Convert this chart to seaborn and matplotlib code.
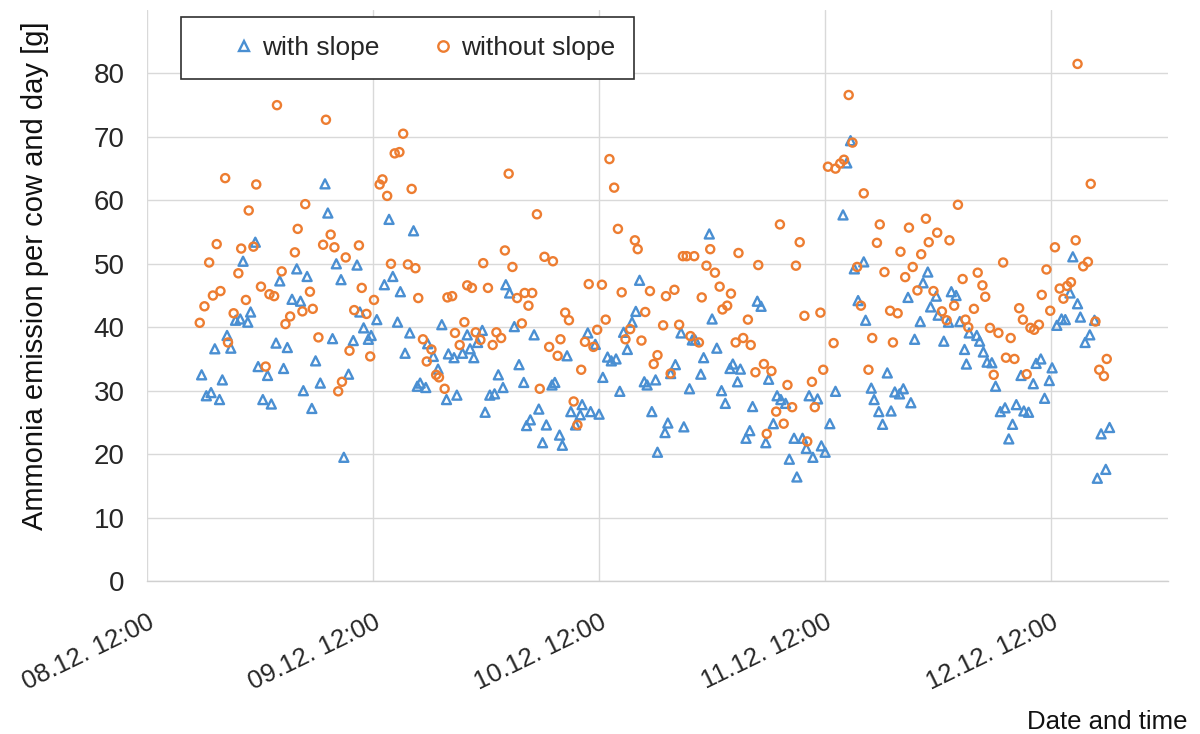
import matplotlib
matplotlib.use("Agg")
import matplotlib.dates as mdates
import matplotlib.pyplot as plt
import pandas as pd
import seaborn as sns
from matplotlib.lines import Line2D

# Time origin of the x axis (first tick, 08.12. 12:00)
START = pd.Timestamp("2020-12-08 12:00")

with_slope_hours = [
    5.8, 6.3, 6.8, 7.2, 7.7, 8.0, 8.5, 8.9, 9.4, 9.9, 10.2, 10.7, 11.0, 11.5, 11.8, 12.3,
    12.8, 13.2, 13.7, 14.1, 14.5, 14.9, 15.4, 15.9, 16.3, 16.6, 17.0, 17.5, 17.9, 18.4,
    18.9, 19.2, 19.7, 20.1, 20.6, 20.9, 21.4, 21.9,
    22.3, 22.6, 23.0, 23.5, 23.8, 24.4, 25.2, 25.7, 26.1, 26.6, 26.9, 27.4, 27.9, 28.3,
    28.7, 29.0, 29.6, 29.8, 30.4, 30.9, 31.3, 31.8, 32.0, 32.6, 32.9, 33.5, 34.0, 34.3,
    34.7, 35.1, 35.6, 35.9, 36.4, 36.9, 37.3, 37.8,
    38.1, 38.5, 39.0, 39.5, 40.0, 40.3, 40.7, 41.1, 41.6, 42.0, 42.4, 43.0, 43.3, 43.8,
    44.1, 44.6, 45.0, 45.5, 46.0, 46.2, 46.8, 47.1, 47.6, 48.0, 48.4, 48.9, 49.3, 49.8,
    50.2, 50.6, 51.0, 51.5, 51.9, 52.3, 52.8, 53.1, 53.6, 54.0, 54.2,
    55.0, 55.3, 55.6, 56.1, 56.7, 57.0, 57.6, 57.9, 58.2, 58.8, 59.1, 59.7, 60.0, 60.5,
    61.0, 61.4, 61.9, 62.2, 62.7, 63.0, 63.6, 64.0, 64.3, 64.8, 65.2, 65.7, 66.0, 66.5,
    66.9, 67.3, 67.8, 68.2, 68.7, 69.0, 69.6, 70.0, 70.3, 70.7,
    71.2, 71.6, 72.0, 72.5, 73.1, 73.9, 74.3, 74.7, 75.1, 75.5, 76.1, 76.3, 76.9, 77.2,
    77.7, 78.1, 78.6, 79.0, 79.4, 79.9, 80.3, 80.8, 81.1, 81.5, 82.1, 82.4, 82.9, 83.2,
    83.8, 84.0, 84.6, 85.1, 85.4, 85.9, 86.3, 86.8, 87.0, 87.3,
    88.1, 88.4, 88.8, 89.2, 89.7, 90.1, 90.6, 91.1, 91.5, 91.9, 92.3, 92.8, 93.1, 93.6,
    94.1, 94.4, 94.9, 95.3, 95.8, 96.1, 96.6, 97.1, 97.5, 98.0, 98.3, 98.8, 99.1, 99.6,
    100.1, 100.6, 100.9, 101.3, 101.8, 102.2,
]
with_slope = [
    32.5, 29.2, 29.7, 36.6, 28.6, 31.7, 38.7, 36.7, 41.1, 41.3, 50.4, 40.8, 42.4, 53.4, 33.8, 28.6,
    32.4, 27.9, 37.5, 47.3, 33.5, 36.8, 44.4, 49.2, 44.1, 30.0, 48.0, 27.2, 34.7, 31.2,
    62.6, 58.0, 38.2, 50.0, 47.5, 19.5, 32.6, 37.9,
    49.8, 42.4, 39.9, 38.1, 38.7, 41.2, 46.7, 57.0, 48.0, 40.8, 45.6, 35.9, 39.1, 55.2,
    30.7, 31.2, 30.5, 37.4, 35.4, 33.4, 40.4, 28.6, 35.8, 35.2, 29.3, 35.9, 38.8, 36.6,
    35.2, 37.6, 39.5, 26.6, 29.3, 29.5, 32.5, 30.5,
    46.7, 45.4, 40.1, 34.1, 31.3, 24.5, 25.4, 38.8, 27.1, 21.8, 24.6, 30.9, 31.3, 23.0,
    21.4, 35.5, 26.7, 24.6, 26.2, 27.8, 39.1, 26.7, 37.3, 26.3, 32.1, 35.3, 34.7, 35.0,
    29.9, 39.2, 36.5, 40.8, 42.5, 47.4, 31.4, 30.9, 26.7, 31.7, 20.3,
    23.4, 24.9, 32.7, 34.1, 39.1, 24.3, 30.3, 38.0, 38.0, 32.6, 35.2, 54.7, 41.3, 36.7,
    30.0, 28.0, 33.5, 34.2, 31.4, 33.4, 22.5, 23.7, 27.5, 44.1, 43.3, 21.8, 31.8, 24.8,
    29.2, 28.6, 28.0, 19.2, 22.5, 16.4, 22.5, 20.9, 29.2, 19.5,
    28.7, 21.3, 20.3, 24.8, 29.9, 57.7, 65.9, 69.4, 49.2, 44.2, 50.3, 41.1, 30.4, 28.6,
    26.7, 24.7, 32.8, 26.8, 29.8, 29.5, 30.3, 44.7, 28.1, 38.1, 40.9, 47.0, 48.7, 43.2,
    44.9, 41.9, 37.8, 40.8, 45.6, 45.0, 40.9, 36.5, 34.2, 39.1,
    38.7, 37.8, 36.1, 34.5, 34.4, 30.7, 26.7, 27.3, 22.4, 24.7, 27.8, 32.4, 26.8, 26.6,
    31.1, 34.3, 35.0, 28.8, 31.6, 33.6, 40.3, 41.3, 41.2, 45.4, 51.1, 43.7, 41.6, 37.6,
    38.8, 41.1, 16.2, 23.2, 17.6, 24.2,
]
without_slope_hours = [
    5.6, 6.1, 6.6, 7.0, 7.4, 7.8, 8.3, 8.6, 9.2, 9.7, 10.0, 10.5, 10.8, 11.3, 11.6, 12.1,
    12.6, 13.0, 13.5, 13.8, 14.3, 14.7, 15.2, 15.7, 16.0, 16.5, 16.8, 17.3, 17.6, 18.2,
    18.7, 19.0, 19.5, 19.9, 20.3, 20.7, 21.1, 21.5,
    22.0, 22.5, 22.8, 23.3, 23.7, 24.1, 24.7, 25.0, 25.5, 25.9, 26.3, 26.8, 27.2, 27.7,
    28.1, 28.5, 28.8, 29.3, 29.7, 30.2, 30.7, 31.0, 31.6, 31.9, 32.4, 32.7, 33.2, 33.7,
    34.0, 34.5, 34.9, 35.4, 35.7, 36.2, 36.7, 37.1, 37.6,
    38.0, 38.4, 38.8, 39.3, 39.8, 40.1, 40.5, 40.9, 41.4, 41.7, 42.2, 42.7, 43.1, 43.6,
    43.9, 44.4, 44.8, 45.3, 45.7, 46.1, 46.5, 46.9, 47.4, 47.8, 48.3, 48.7, 49.1, 49.6,
    50.0, 50.4, 50.8, 51.3, 51.8, 52.1, 52.5, 52.9, 53.4, 53.8, 54.2,
    54.8, 55.1, 55.6, 56.0, 56.5, 56.9, 57.3, 57.7, 58.1, 58.6, 58.9, 59.4, 59.8, 60.3,
    60.8, 61.1, 61.6, 62.0, 62.5, 62.8, 63.3, 63.8, 64.1, 64.6, 64.9, 65.5, 65.8, 66.3,
    66.8, 67.2, 67.6, 68.0, 68.5, 68.9, 69.3, 69.8, 70.1, 70.6, 70.9,
    71.5, 71.8, 72.3, 72.9, 73.1, 73.6, 74.0, 74.5, 74.9, 75.4, 75.8, 76.1, 76.6, 77.0,
    77.5, 77.8, 78.3, 78.9, 79.2, 79.7, 80.0, 80.5, 80.9, 81.3, 81.8, 82.2, 82.7, 83.0,
    83.5, 83.9, 84.4, 84.9, 85.2, 85.7, 86.1, 86.6, 86.9, 87.2,
    87.8, 88.2, 88.7, 89.0, 89.5, 89.9, 90.4, 90.9, 91.2, 91.7, 92.1, 92.6, 93.0, 93.4,
    93.8, 94.2, 94.7, 95.0, 95.5, 95.9, 96.4, 96.9, 97.3, 97.7, 98.1, 98.6, 98.8, 99.4,
    99.9, 100.2, 100.7, 101.1, 101.6, 101.9,
]
without_slope = [
    40.7, 43.3, 50.2, 45.0, 53.1, 45.7, 63.5, 37.6, 42.2, 48.5, 52.4, 44.3, 58.4, 52.7, 62.5, 46.4,
    33.8, 45.2, 44.9, 75.0, 48.8, 40.5, 41.7, 51.8, 55.5, 42.5, 59.4, 45.6, 42.9, 38.4,
    53.0, 72.7, 54.6, 52.6, 29.9, 31.4, 51.0, 36.3,
    42.7, 52.9, 46.2, 42.1, 35.4, 44.3, 62.5, 63.3, 60.7, 50.0, 67.4, 67.6, 70.5, 49.9,
    61.8, 49.3, 44.6, 38.1, 34.6, 36.5, 32.5, 32.1, 30.3, 44.7, 44.9, 39.1, 37.2, 40.8,
    46.6, 46.2, 39.2, 38.0, 50.1, 46.2, 37.2, 39.2, 38.3,
    52.1, 64.2, 49.5, 44.6, 40.6, 45.4, 43.4, 45.4, 57.8, 30.3, 51.1, 36.9, 50.4, 35.5,
    38.1, 42.3, 41.1, 28.3, 24.6, 33.3, 37.7, 46.8, 36.9, 39.6, 46.7, 41.2, 66.5, 62.0,
    55.5, 45.5, 38.1, 39.7, 53.7, 52.3, 37.9, 42.4, 45.7, 34.2, 35.6,
    40.3, 44.9, 32.7, 45.9, 40.4, 51.2, 51.2, 38.6, 51.2, 37.6, 44.7, 49.7, 52.3, 48.6,
    46.4, 42.8, 43.4, 45.3, 37.6, 51.7, 38.3, 41.2, 37.2, 32.9, 49.8, 34.2, 23.2, 33.1,
    26.7, 56.2, 24.8, 30.9, 27.4, 49.7, 53.4, 41.8, 22.0, 31.4, 27.4,
    42.3, 33.3, 65.3, 37.5, 65.0, 65.8, 66.4, 76.6, 69.1, 49.5, 43.4, 61.1, 33.3, 38.3,
    53.3, 56.2, 48.7, 42.6, 37.6, 42.2, 51.9, 47.9, 55.7, 49.5, 45.8, 51.5, 57.1, 53.4,
    45.7, 54.9, 42.5, 41.1, 53.7, 43.4, 59.3, 47.6, 41.2, 40.0,
    42.9, 48.6, 46.6, 44.8, 39.9, 32.5, 39.1, 50.2, 35.2, 38.3, 35.0, 43.0, 41.2, 32.6,
    39.9, 39.6, 40.4, 45.1, 49.1, 42.6, 52.6, 46.1, 44.5, 46.5, 47.1, 53.7, 81.5, 49.6,
    50.3, 62.6, 40.9, 33.3, 32.3, 35.0,
]

SERIES = ["with slope", "without slope"]
COLORS = {"with slope": "#4A8FD2", "without slope": "#ED7D31"}
MARKERS = {"with slope": "^", "without slope": "o"}
SIZES = {"with slope": 42, "without slope": 34}
Y_TICKS = [0, 10, 20, 30, 40, 50, 60, 70, 80]


def to_frame(hours, values, label):
    return pd.DataFrame({
        "time": START + pd.to_timedelta(hours, unit="h"),
        "emission": values,
        "series": label,
    })


frames = {
    "with slope": to_frame(with_slope_hours, with_slope, "with slope"),
    "without slope": to_frame(without_slope_hours, without_slope, "without slope"),
}

sns.set_theme(style="white")
plt.rcParams["font.family"] = ["Liberation Sans", "DejaVu Sans"]

fig = plt.figure(figsize=(12, 7.34), dpi=100)
ax = fig.add_axes([0.1225, 0.2084, 0.8508, 0.778])

# hollow markers: draw with seaborn, then turn fill into edge colour
for name in SERIES:
    sns.scatterplot(
        data=frames[name], x="time", y="emission",
        marker=MARKERS[name], s=SIZES[name], ax=ax, legend=False, zorder=3,
    )
    coll = ax.collections[-1]
    coll.set_facecolor("none")
    coll.set_edgecolor(COLORS[name])
    coll.set_linewidth(1.7)

ax.set_xlim(START, START + pd.Timedelta(hours=108.4))
ax.set_ylim(0, 90)
ax.set_yticks(Y_TICKS)
ax.xaxis.set_major_locator(mdates.HourLocator(byhour=[12]))
ax.xaxis.set_major_formatter(mdates.DateFormatter("%d.%m. %H:%M"))

ax.grid(True, color="#D9D9D9", linewidth=1.0)
ax.set_axisbelow(True)
for side in ["top", "right", "left"]:
    ax.spines[side].set_visible(False)
ax.spines["bottom"].set_color("#D0D0D0")
ax.spines["bottom"].set_linewidth(1.0)

ax.tick_params(axis="y", length=0, pad=16, labelsize=20, labelcolor="#262626")
ax.tick_params(axis="x", length=0, pad=21, labelsize=18.5, labelcolor="#262626")
plt.setp(ax.get_xticklabels(), rotation=26, ha="right", rotation_mode="anchor")

ax.set_ylabel("Ammonia emission per cow and day [g]", fontsize=21, color="#111111")
ax.yaxis.set_label_coords(-0.096, 0.534)
ax.set_xlabel("Date and time", fontsize=18.5, color="#111111", loc="right")
ax.xaxis.set_label_coords(1.0196, -0.225)

handles = [
    Line2D([], [], ls="none", marker=MARKERS[n], markersize=7.5, markerfacecolor="none",
           markeredgecolor=COLORS[n], markeredgewidth=1.7)
    for n in SERIES
]
ax.legend(
    handles, SERIES, loc="upper left", bbox_to_anchor=(0.0333, 0.988), ncol=2,
    fontsize=19, frameon=True, fancybox=False, edgecolor="#303030", framealpha=1,
    borderpad=0.72, handlelength=3.3, handletextpad=-0.95, columnspacing=0.75,
    borderaxespad=0,
)
ax.get_legend().get_frame().set_linewidth(1.2)

fig.savefig("out.png", dpi=100)
